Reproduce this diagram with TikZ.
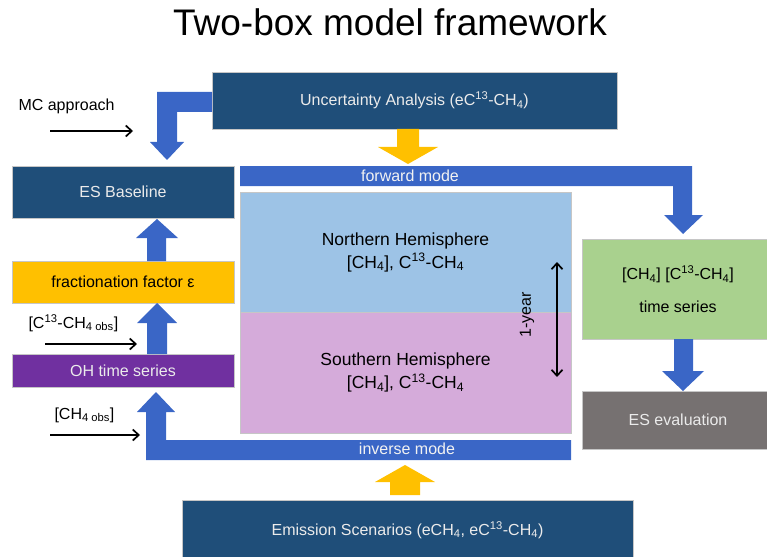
\documentclass[tikz,border=0pt]{standalone}
\usepackage{fontspec}
\setmainfont{Liberation Sans}
\usetikzlibrary{arrows.meta}
\definecolor{boxblue}{HTML}{1F4E79}
\definecolor{barblue}{HTML}{3A66C6}
\definecolor{nhblue}{HTML}{9DC3E6}
\definecolor{shpink}{HTML}{D5ABDA}
\definecolor{tsgreen}{HTML}{A9D18E}
\definecolor{evalgray}{HTML}{767171}
\definecolor{fracyellow}{HTML}{FFC000}
\definecolor{ohpurple}{HTML}{7030A0}
\newcommand{\chfour}{CH\textsubscript{4}}
\newcommand{\cthirteen}{C\textsuperscript{13}}

\begin{document}
\begin{tikzpicture}[x=1pt, y=-1pt, font=\fontsize{16}{19}\selectfont,
  >={Straight Barb[length=6pt,width=11pt]},
  box/.style={draw=gray!45, line width=0.4pt, inner sep=0pt, anchor=center},
  darkbox/.style={box, fill=boxblue, text=white!92!black},
  hemi/.style={box, align=center, font=\fontsize{17.5}{23}\selectfont,
    minimum width=331pt},
  fatarrow/.style={fill=barblue},
  goldarrow/.style={fill=fracyellow},
  feed/.style={line width=1.7pt, ->}]
  \useasboundingbox (0,0) rectangle (767,556);

  \node[font=\fontsize{37}{40}\selectfont] (title) at (390,22) {Two-box model framework};

  \node[darkbox, minimum width=405pt, minimum height=57pt] (ua) at (414.5,100.5)
    {Uncertainty Analysis (e\cthirteen-\chfour)};
  \node[darkbox, minimum width=222pt, minimum height=52pt] (esb) at (123,192) {ES Baseline};
  \node[box, fill=fracyellow, minimum width=222pt, minimum height=42pt] (frac) at (123,282)
    {fractionation factor ε};
  \node[box, fill=ohpurple, text=white!92!black, minimum width=222pt, minimum height=33pt]
    (oh) at (123,370.5) {OH time series};
  \node[hemi, fill=nhblue, minimum height=120pt] (nh) at (405.5,252)
    {Northern Hemisphere\\{}[\chfour], \cthirteen-\chfour};
  \node[hemi, fill=shpink, minimum height=121pt] (sh) at (405.5,372.5)
    {Southern Hemisphere\\{}[\chfour], \cthirteen-\chfour};
  \node[box, fill=tsgreen, align=center, minimum width=192pt, minimum height=100pt]
    (ts) at (678,289) {[\chfour] [\cthirteen-\chfour]\\[14pt]time series};
  \node[box, fill=evalgray, text=white!92!black, minimum width=192pt, minimum height=58pt]
    (eval) at (678,420) {ES evaluation};
  \node[darkbox, minimum width=451pt, minimum height=60pt] (es) at (407.5,530)
    {Emission Scenarios (e\chfour, e\cthirteen-\chfour)};

  \fill[fatarrow] (212,92) -- (212,112) -- (177,112) -- (177,142) -- (184,142)
    -- (167,160) -- (150,142) -- (157,142) -- (157,92) -- cycle;
  \fill[fatarrow] (240,166) -- (692,166) -- (692,215) -- (703,215) -- (683,234)
    -- (664,215) -- (673,215) -- (673,186) -- (240,186) -- cycle;
  \fill[fatarrow] (571,440) -- (571,460) -- (146,460) -- (146,412) -- (137,412)
    -- (156,392) -- (175,412) -- (166,412) -- (166,440) -- cycle;
  \fill[fatarrow] (147,261) -- (147,238) -- (136,238) -- (157,219) -- (178,238)
    -- (166,238) -- (166,261) -- cycle;
  \fill[fatarrow] (147,354) -- (147,323) -- (137,323) -- (157,303) -- (177,323)
    -- (167,323) -- (167,354) -- cycle;
  \fill[fatarrow] (674,339) -- (693,339) -- (693,371) -- (704,371) -- (683,391)
    -- (662,371) -- (674,371) -- cycle;
  \fill[goldarrow] (397,129) -- (419,129) -- (419,147) -- (438,147) -- (408,164)
    -- (378,147) -- (397,147) -- cycle;
  \fill[goldarrow] (390,495) -- (390,482) -- (375,482) -- (405,465) -- (435,482)
    -- (420,482) -- (420,495) -- cycle;

  \node[text=white!95!black] (fwd) at (410,176) {forward mode};
  \node[text=white!95!black] (inv) at (407,449) {inverse mode};

  \node[anchor=west] (mc) at (15,106) {MC approach};
  \node[anchor=west] (cobs) at (25,323) {[\cthirteen-CH\textsubscript{4 obs}]};
  \node[anchor=west] (chobs) at (51,415) {[CH\textsubscript{4 obs}]};
  \node[rotate=90] (yr) at (527,315) {1-year};

  \coordinate (mcs) at (50,131);
  \coordinate (mce) at (133,131);
  \coordinate (cobss) at (45,344);
  \coordinate (cobse) at (137,344);
  \coordinate (chobss) at (50,435);
  \coordinate (chobse) at (140,435);
  \coordinate (yrt) at (557,262);
  \coordinate (yrb) at (557,377);
  \draw[feed] (mcs) -- (mce);
  \draw[feed] (cobss) -- (cobse);
  \draw[feed] (chobss) -- (chobse);
  \draw[feed, <->] (yrt) -- (yrb);
\end{tikzpicture}
\end{document}
